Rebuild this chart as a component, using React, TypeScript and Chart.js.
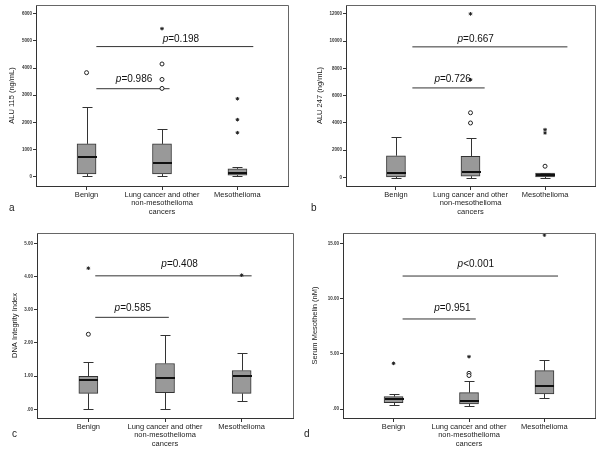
import React, { useEffect, useRef } from "react";
import { Chart, registerables } from "chart.js";
Chart.register(...registerables);

const FONT = "'Liberation Sans', Arial, sans-serif";

// ---- shared categories ----
const CATEGORIES: string[][] = [
  ["Benign"],
  ["Lung cancer and other", "non-mesothelioma", "cancers"],
  ["Mesothelioma"],
];
const CATEGORY_X = [1, 2, 3];

// ---- panel a: ALU 115 ----
const A_LOW = [20, 20, 25];
const A_Q1 = [100, 100, 60];
const A_MED = [710, 500, 135];
const A_Q3 = [1210, 1210, 290];
const A_HIGH = [2560, 1750, 360];
const A_CIRCLES = [[3830], [4150, 3580, 3250], []];
const A_STARS = [[], [5450], [2870, 2100, 1620]];
const A_TICKS = [0, 1000, 2000, 3000, 4000, 5000, 6000];
const A_P_LABELS = ["p=0.986", "p=0.198"];
const A_P_LINE_Y = [3240, 4790];
const A_P_LINE_X0 = [1.13, 1.13];
const A_P_LINE_X1 = [2.1, 3.21];
const A_P_TEXT_X = [1.63, 2.25];
const A_P_TEXT_Y = [3600, 5045];

// ---- panel b: ALU 247 ----
const B_LOW = [0, 0, 0];
const B_Q1 = [40, 100, 40];
const B_MED = [360, 400, 170];
const B_Q3 = [1600, 1550, 330];
const B_HIGH = [2960, 2870, 360];
const B_CIRCLES = [[], [4750, 4000], [830]];
const B_STARS = [[], [12000, 7170], [3510, 3270]];
const B_TICKS = [0, 2000, 4000, 6000, 8000, 10000, 12000];
const B_P_LABELS = ["p=0.726", "p=0.667"];
const B_P_LINE_Y = [6570, 9580];
const B_P_LINE_X0 = [1.22, 1.22];
const B_P_LINE_X1 = [2.19, 3.3];
const B_P_TEXT_X = [1.76, 2.07];
const B_P_TEXT_Y = [7190, 10160];

// ---- panel c: DNA Integrity Index ----
const C_LOW = [0, 0, 0.25];
const C_Q1 = [0.48, 0.5, 0.48];
const C_MED = [0.87, 0.95, 1.01];
const C_Q3 = [0.99, 1.38, 1.17];
const C_HIGH = [1.42, 2.24, 1.69];
const C_CIRCLES = [[2.26], [], []];
const C_STARS = [[4.25], [], [4.04]];
const C_TICKS = [0, 1, 2, 3, 4, 5];
const C_P_LABELS = ["p=0.585", "p=0.408"];
const C_P_LINE_Y = [2.77, 4.02];
const C_P_LINE_X0 = [1.09, 1.09];
const C_P_LINE_X1 = [2.05, 3.13];
const C_P_TEXT_X = [1.58, 2.19];
const C_P_TEXT_Y = [3.04, 4.38];

// ---- panel d: Serum Mesothelin ----
const D_LOW = [0.39, 0.33, 0.99];
const D_Q1 = [0.6, 0.48, 1.38];
const D_MED = [0.93, 0.78, 2.08];
const D_Q3 = [1.14, 1.5, 3.49];
const D_HIGH = [1.38, 2.58, 4.45];
const D_CIRCLES = [[], [3.25, 3.05], []];
const D_STARS = [[4.15], [4.75], [15.75]];
const D_TICKS = [0, 5, 10, 15];
const D_P_LABELS = ["p=0.951", "p<0.001"];
const D_P_LINE_Y = [8.16, 12.04];
const D_P_LINE_X0 = [1.12, 1.12];
const D_P_LINE_X1 = [2.09, 3.18];
const D_P_TEXT_X = [1.78, 2.09];
const D_P_TEXT_Y = [9.12, 13.1];

const intFmt = (v: number) => String(v);
const decFmt = (v: number) => (v === 0 ? ".00" : v.toFixed(2));

type PanelCfg = {
  left: number; top: number; yWidth: number; xHeight: number; padTop: number; padRight: number;
  yMin: number; yMax: number; ticks: number[]; fmt: (v: number) => string; title: string; titlePad: number;
  low: number[]; q1: number[]; med: number[]; q3: number[]; high: number[];
  circles: number[][]; stars: number[][];
  pLabels: string[]; pLineY: number[]; pX0: number[]; pX1: number[]; pTextX: number[]; pTextY: number[];
  letter: string; letterX: number; letterY: number;
};

const PANELS: PanelCfg[] = [
  {
    left: 0, top: 0, yWidth: 36, xHeight: 39, padTop: 2, padRight: 12,
    yMin: -340, yMax: 6320, ticks: A_TICKS, fmt: intFmt, title: "ALU 115 (ng/mL)", titlePad: 7,
    low: A_LOW, q1: A_Q1, med: A_MED, q3: A_Q3, high: A_HIGH, circles: A_CIRCLES, stars: A_STARS,
    pLabels: A_P_LABELS, pLineY: A_P_LINE_Y, pX0: A_P_LINE_X0, pX1: A_P_LINE_X1, pTextX: A_P_TEXT_X, pTextY: A_P_TEXT_Y,
    letter: "a", letterX: 9, letterY: 202,
  },
  {
    left: 300, top: 0, yWidth: 46, xHeight: 39, padTop: 1, padRight: 3,
    yMin: -620, yMax: 12650, ticks: B_TICKS, fmt: intFmt, title: "ALU 247 (ng/mL)", titlePad: 15,
    low: B_LOW, q1: B_Q1, med: B_MED, q3: B_Q3, high: B_HIGH, circles: B_CIRCLES, stars: B_STARS,
    pLabels: B_P_LABELS, pLineY: B_P_LINE_Y, pX0: B_P_LINE_X0, pX1: B_P_LINE_X1, pTextX: B_P_TEXT_X, pTextY: B_P_TEXT_Y,
    letter: "b", letterX: 311, letterY: 202,
  },
  {
    left: 0, top: 225, yWidth: 37, xHeight: 32, padTop: 8, padRight: 7,
    yMin: -0.262, yMax: 5.31, ticks: C_TICKS, fmt: decFmt, title: "DNA Integrity Index", titlePad: 10,
    low: C_LOW, q1: C_Q1, med: C_MED, q3: C_Q3, high: C_HIGH, circles: C_CIRCLES, stars: C_STARS,
    pLabels: C_P_LABELS, pLineY: C_P_LINE_Y, pX0: C_P_LINE_X0, pX1: C_P_LINE_X1, pTextX: C_P_TEXT_X, pTextY: C_P_TEXT_Y,
    letter: "c", letterX: 12, letterY: 428,
  },
  {
    left: 300, top: 225, yWidth: 43, xHeight: 32, padTop: 8, padRight: 3,
    yMin: -0.79, yMax: 15.93, ticks: D_TICKS, fmt: decFmt, title: "Serum Mesothelin (nM)", titlePad: 10,
    low: D_LOW, q1: D_Q1, med: D_MED, q3: D_Q3, high: D_HIGH, circles: D_CIRCLES, stars: D_STARS,
    pLabels: D_P_LABELS, pLineY: D_P_LINE_Y, pX0: D_P_LINE_X0, pX1: D_P_LINE_X1, pTextX: D_P_TEXT_X, pTextY: D_P_TEXT_Y,
    letter: "d", letterX: 304, letterY: 428,
  },
];

const BOX_W = 19;
const CAP_W = 10;

function makeBoxPlugin(cfg: PanelCfg) {
  return {
    id: "boxExtras",
    afterDatasetsDraw(chart: any) {
      const { ctx, chartArea } = chart;
      const x = chart.scales.x;
      const y = chart.scales.y;
      ctx.save();
      // frame (top/right)
      ctx.strokeStyle = "#666";
      ctx.lineWidth = 1;
      ctx.beginPath();
      ctx.moveTo(chartArea.left, Math.round(chartArea.top) + 0.5);
      ctx.lineTo(chartArea.right + 0.5, Math.round(chartArea.top) + 0.5);
      ctx.lineTo(Math.round(chartArea.right) + 0.5, chartArea.bottom);
      ctx.stroke();
      // whiskers + caps + medians
      CATEGORY_X.forEach((cx, i) => {
        const px = Math.round(x.getPixelForValue(cx)) + 0.5;
        const yHi = Math.round(y.getPixelForValue(cfg.high[i])) + 0.5;
        const yQ3 = y.getPixelForValue(cfg.q3[i]);
        const yQ1 = y.getPixelForValue(cfg.q1[i]);
        const yLo = Math.round(y.getPixelForValue(cfg.low[i])) + 0.5;
        const yMed = y.getPixelForValue(cfg.med[i]);
        ctx.strokeStyle = "#333";
        ctx.lineWidth = 1;
        ctx.beginPath();
        ctx.moveTo(px, yHi);
        ctx.lineTo(px, yQ3);
        ctx.moveTo(px - CAP_W / 2, yHi);
        ctx.lineTo(px + CAP_W / 2, yHi);
        ctx.moveTo(px, yQ1);
        ctx.lineTo(px, yLo);
        ctx.moveTo(px - CAP_W / 2, yLo);
        ctx.lineTo(px + CAP_W / 2, yLo);
        ctx.stroke();
        ctx.strokeStyle = "#111";
        ctx.lineWidth = 2;
        ctx.beginPath();
        ctx.moveTo(px - BOX_W / 2, Math.round(yMed));
        ctx.lineTo(px + BOX_W / 2, Math.round(yMed));
        ctx.stroke();
      });
      // p-value labels
      ctx.fillStyle = "#111";
      ctx.textBaseline = "middle";
      cfg.pLabels.forEach((label, i) => {
        const first = label.slice(0, 1);
        const rest = label.slice(1);
        ctx.font = `italic 10px ${FONT}`;
        const w1 = ctx.measureText(first).width;
        ctx.font = `10px ${FONT}`;
        const w2 = ctx.measureText(rest).width;
        const cx = x.getPixelForValue(cfg.pTextX[i]);
        const cy = y.getPixelForValue(cfg.pTextY[i]);
        const sx = cx - (w1 + w2) / 2;
        ctx.font = `italic 10px ${FONT}`;
        ctx.fillText(first, sx, cy);
        ctx.font = `10px ${FONT}`;
        ctx.fillText(rest, sx + w1, cy);
      });
      ctx.restore();
    },
  };
}

function PanelChart({ cfg }: { cfg: PanelCfg }) {
  const ref = useRef<HTMLCanvasElement>(null);
  useEffect(() => {
    const boxData = CATEGORY_X.map((cx, i) => ({ x: cx, y: [cfg.q1[i], cfg.q3[i]] }));
    const circleData = cfg.circles.flatMap((vals, i) => vals.map((v) => ({ x: CATEGORY_X[i], y: v })));
    const starData = cfg.stars.flatMap((vals, i) => vals.map((v) => ({ x: CATEGORY_X[i], y: v })));
    const pLineSets = cfg.pLineY.map((py, i) => ({
      type: "line" as const,
      data: [
        { x: cfg.pX0[i], y: py },
        { x: cfg.pX1[i], y: py },
      ],
      borderColor: "#333",
      borderWidth: 1,
      pointRadius: 0,
      fill: false,
    }));
    const chart = new Chart(ref.current as HTMLCanvasElement, {
      type: "bar",
      data: {
        datasets: [
          {
            type: "bar",
            data: boxData as any,
            backgroundColor: "#999999",
            borderColor: "#333",
            borderWidth: 1,
            borderSkipped: false,
            barThickness: BOX_W,
          } as any,
          {
            type: "scatter",
            data: circleData,
            pointStyle: "circle",
            pointRadius: 2,
            backgroundColor: "#ffffff",
            borderColor: "#222",
            borderWidth: 1,
            clip: false,
          } as any,
          {
            type: "scatter",
            data: starData,
            pointStyle: "star",
            pointRadius: 1.8,
            backgroundColor: "#222",
            borderColor: "#222",
            borderWidth: 1,
            clip: false,
          } as any,
          ...(pLineSets as any[]),
        ],
      },
      options: {
        animation: false,
        responsive: false,
        events: [],
        layout: { padding: { top: cfg.padTop, right: cfg.padRight, left: 0, bottom: 0 } },
        plugins: { legend: { display: false }, tooltip: { enabled: false } },
        scales: {
          x: {
            type: "linear",
            min: 0.33,
            max: 3.67,
            offset: false,
            afterBuildTicks: (s: any) => {
              s.ticks = CATEGORY_X.map((v) => ({ value: v }));
            },
            afterFit: (s: any) => {
              s.height = cfg.xHeight;
            },
            grid: { drawOnChartArea: false, drawTicks: true, tickLength: 4, color: "#333", offset: false },
            border: { display: true, color: "#333", width: 1 },
            ticks: {
              autoSkip: false,
              maxRotation: 0,
              padding: 1,
              color: "#222",
              font: { family: FONT, size: 7.5, lineHeight: 1.1 },
              callback: (v: any) => {
                const idx = CATEGORY_X.indexOf(Number(v));
                return idx >= 0 ? CATEGORIES[idx] : "";
              },
            },
          },
          y: {
            type: "linear",
            min: cfg.yMin,
            max: cfg.yMax,
            afterBuildTicks: (s: any) => {
              s.ticks = cfg.ticks.map((v) => ({ value: v }));
            },
            afterFit: (s: any) => {
              s.width = cfg.yWidth;
            },
            grid: { drawOnChartArea: false, drawTicks: true, tickLength: 3, color: "#333" },
            border: { display: true, color: "#333", width: 1 },
            title: {
              display: true,
              text: cfg.title,
              color: "#222",
              font: { family: FONT, size: 7.5 },
              padding: { top: cfg.titlePad, bottom: 0 },
            },
            ticks: {
              padding: 1,
              color: "#333",
              font: { family: FONT, size: 4.5, weight: "bold" },
              callback: (v: any) => cfg.fmt(Number(v)),
            },
          },
        },
      },
      plugins: [makeBoxPlugin(cfg)],
    } as any);
    return () => chart.destroy();
  }, [cfg]);
  return (
    <canvas
      ref={ref}
      width={300}
      height={225}
      style={{ position: "absolute", left: cfg.left, top: cfg.top, width: 300, height: 225 }}
    />
  );
}

export default function App() {
  return (
    <div style={{ position: "absolute", left: 0, top: 0, width: 600, height: 450, background: "#fff", overflow: "hidden" }}>
      {PANELS.map((p) => (
        <PanelChart key={p.letter} cfg={p} />
      ))}
      {PANELS.map((p) => (
        <div
          key={"l" + p.letter}
          style={{
            position: "absolute",
            left: p.letterX,
            top: p.letterY,
            fontFamily: FONT,
            fontSize: 10,
            lineHeight: "11px",
            color: "#222",
          }}
        >
          {p.letter}
        </div>
      ))}
    </div>
  );
}
